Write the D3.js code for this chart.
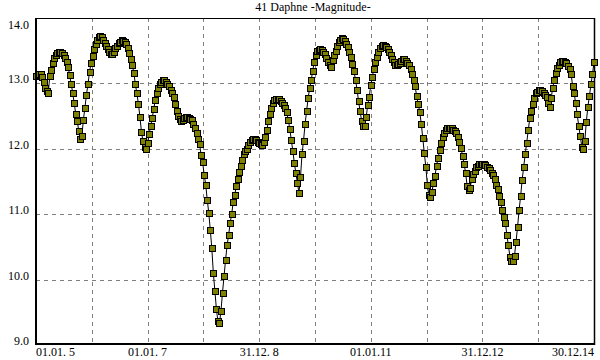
<!DOCTYPE html>
<html><head><meta charset="utf-8">
<script src="https://cdn.jsdelivr.net/npm/d3@7"></script>
<style>
body{margin:0;background:#fff}
svg{display:block}
text{font-family:"Liberation Serif","Times New Roman",serif;font-size:12px;fill:#000}
</style>
</head><body><svg id="c" width="600" height="360"></svg>
<script>
const chartTitle = "41 Daphne -Magnitude-";
const startDate = "2005-01-01";
const endDate = "2014-12-30";
const stepDays = 10;
const magnitudes = [
13.10,13.12,13.14,13.13,13.09,13.02,12.93,12.88,12.84,13.10,
13.20,13.30,13.38,13.43,13.46,13.48,13.47,13.46,13.42,13.38,
13.32,13.25,13.12,12.99,12.85,12.69,12.53,12.42,12.26,12.15,
12.19,12.44,12.62,12.82,12.98,13.17,13.30,13.41,13.52,13.59,
13.66,13.70,13.72,13.70,13.65,13.61,13.57,13.52,13.48,13.45,
13.45,13.48,13.53,13.57,13.61,13.63,13.65,13.64,13.63,13.59,
13.54,13.46,13.36,13.27,13.16,12.98,12.84,12.68,12.48,12.25,
12.11,12.02,11.99,12.08,12.22,12.34,12.46,12.60,12.74,12.84,
12.92,12.98,13.02,13.04,13.04,13.02,12.99,12.95,12.90,12.85,
12.78,12.68,12.58,12.50,12.45,12.42,12.43,12.46,12.48,12.48,
12.47,12.45,12.43,12.37,12.32,12.24,12.15,12.07,11.90,11.79,
11.60,11.45,11.22,11.02,10.76,10.48,10.10,9.83,9.55,9.36,
9.33,9.52,9.80,10.05,10.30,10.52,10.68,10.86,11.00,11.18,
11.29,11.42,11.54,11.64,11.74,11.83,11.91,11.96,12.00,12.05,
12.10,12.13,12.14,12.14,12.13,12.10,12.08,12.07,12.05,12.10,
12.18,12.28,12.42,12.53,12.62,12.69,12.74,12.76,12.76,12.75,
12.73,12.70,12.67,12.62,12.55,12.44,12.30,12.13,11.96,11.78,
11.62,11.48,11.32,11.56,11.91,12.12,12.37,12.57,12.77,12.92,
13.04,13.19,13.32,13.42,13.49,13.51,13.52,13.51,13.48,13.44,
13.38,13.32,13.27,13.25,13.35,13.42,13.49,13.57,13.63,13.66,
13.68,13.67,13.64,13.60,13.55,13.48,13.39,13.29,13.18,13.05,
12.90,12.72,12.57,12.42,12.34,12.35,12.48,12.67,12.79,12.97,
13.09,13.22,13.32,13.40,13.47,13.54,13.57,13.58,13.57,13.55,
13.52,13.48,13.42,13.37,13.32,13.28,13.27,13.29,13.31,13.34,
13.36,13.36,13.34,13.31,13.27,13.22,13.14,13.04,12.95,12.80,
12.68,12.56,12.38,12.16,11.93,11.72,11.44,11.29,11.26,11.33,
11.48,11.58,11.74,11.85,11.97,12.08,12.18,12.24,12.28,12.31,
12.32,12.32,12.31,12.29,12.27,12.23,12.17,12.10,12.01,11.89,
11.77,11.63,11.43,11.36,11.40,11.53,11.61,11.66,11.71,11.74,
11.76,11.77,11.77,11.76,11.75,11.72,11.70,11.67,11.63,11.59,
11.53,11.44,11.38,11.27,11.18,11.06,10.96,10.87,10.68,10.52,
10.35,10.29,10.28,10.36,10.58,10.80,11.06,11.27,11.52,11.72,
11.91,12.09,12.28,12.46,12.58,12.68,12.77,12.84,12.87,12.89,
12.89,12.88,12.85,12.82,12.78,12.70,12.64,12.77,12.93,13.04,
13.15,13.23,13.27,13.32,13.34,13.34,13.32,13.30,13.26,13.21,
13.14,12.96,12.85,12.69,12.52,12.35,12.19,12.03,12.00,12.12,
12.41,12.64,12.80,12.98,13.13,13.32
];
const yDomain = [9, 14];
const yTickValues = [9, 10, 11, 12, 13, 14];
const xGridIntervals = 10;
const xTickLabels = ["01.01. 5", "01.01. 7", "31.12. 8", "01.01.11", "31.12.12", "30.12.14"];

const svg = d3.select("#c");
const L = 36, R = 594, T = 17.5, B = 345;
const t0 = new Date(startDate + "T00:00:00Z");
const t1 = new Date(endDate + "T00:00:00Z");
const x = d3.scaleUtc().domain([t0, t1]).range([L, R]);
const y = d3.scaleLinear().domain(yDomain).range([B, T]);
const data = magnitudes.map((v, i) => ({ d: d3.utcDay.offset(t0, i * stepDays), v }));
const gridDates = d3.range(xGridIntervals + 1).map(k => new Date(+t0 + k * (t1 - t0) / xGridIntervals));
const crisp = v => Math.round(v) + 0.5;

// grid
const grid = svg.append("g").attr("stroke", "#808080").attr("stroke-width", 1).attr("stroke-dasharray", "4,4");
gridDates.slice(1, -1).forEach(d => {
  grid.append("line").attr("x1", crisp(x(d))).attr("x2", crisp(x(d))).attr("y1", 18).attr("y2", 346);
});
yTickValues.filter(v => v > yDomain[0] && v < yDomain[1]).forEach(v => {
  grid.append("line").attr("x1", L).attr("x2", R).attr("y1", crisp(y(v))).attr("y2", crisp(y(v)));
});

// frame
svg.append("line").attr("x1", L).attr("x2", R + 1).attr("y1", 18.5).attr("y2", 18.5).attr("stroke", "#000");
svg.append("line").attr("x1", R + 0.5).attr("x2", R + 0.5).attr("y1", 18).attr("y2", 345).attr("stroke", "#000").attr("stroke-width", 1.5);
svg.append("line").attr("x1", L).attr("x2", L).attr("y1", 18).attr("y2", 345).attr("stroke", "#000").attr("stroke-width", 2);
svg.append("line").attr("x1", L - 1).attr("x2", R + 1).attr("y1", 344).attr("y2", 344).attr("stroke", "#000").attr("stroke-width", 2);

// y labels
svg.append("g").selectAll("text").data(yTickValues).join("text")
  .attr("x", 29).attr("y", v => Math.max(Math.round(y(v)), 29))
  .attr("text-anchor", "end").text(d3.format(".1f"));

// x labels
svg.append("g").selectAll("text").data(xTickLabels).join("text")
  .attr("x", (s, j) => x(gridDates[j * 2]))
  .attr("y", 356)
  .attr("text-anchor", (s, j) => j === 0 ? "start" : (j === xTickLabels.length - 1 ? "end" : "middle"))
  .text(s => s);

// title
svg.append("text").attr("x", (L + R) / 2 - 2).attr("y", 11).attr("text-anchor", "middle").text(chartTitle);

// series line
svg.append("path").datum(data)
  .attr("fill", "none").attr("stroke", "#000").attr("stroke-width", 1)
  .attr("d", d3.line().x(d => x(d.d)).y(d => y(d.v)));

// markers
svg.append("g").selectAll("rect").data(data).join("rect")
  .attr("x", d => Math.round(x(d.d)) - 3 + 0.5)
  .attr("y", d => Math.round(y(d.v)) - 3 + 0.5)
  .attr("width", 6).attr("height", 6)
  .attr("fill", "#808000").attr("stroke", "#000").attr("stroke-width", 1);
</script>
</body></html>
